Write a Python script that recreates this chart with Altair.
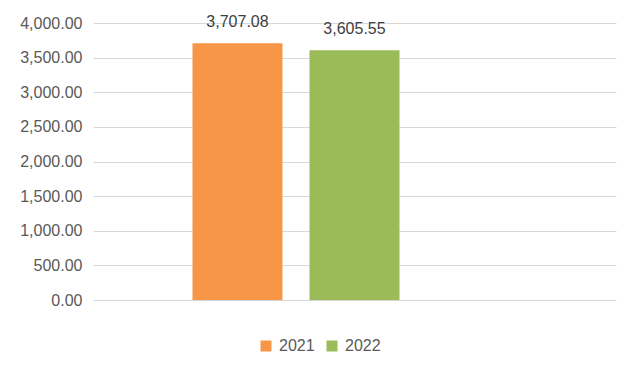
import altair as alt
import pandas as pd

series = ["2021", "2022"]
values = [3707.08, 3605.55]
colors = ["#F79646", "#9BBB59"]
y_ticks = [0, 500, 1000, 1500, 2000, 2500, 3000, 3500, 4000]

df = pd.DataFrame({"series": series, "value": values})

FONT = "Liberation Sans"

# Excel reserves a slot for an empty third series, so the band scale has three slots
x_domain = series + [" "]

base = alt.Chart(df).encode(
    x=alt.X(
        "series:N",
        axis=None,
        scale=alt.Scale(domain=x_domain, paddingInner=0.2308, paddingOuter=0.85),
    ),
    y=alt.Y(
        "value:Q",
        scale=alt.Scale(domain=[0, 4000], nice=False),
        axis=alt.Axis(
            values=y_ticks,
            format=",.2f",
            title=None,
            domain=False,
            ticks=False,
            labelPadding=11,
            gridColor="#d9d9d9",
            gridWidth=1,
            labelColor="#595959",
            labelFontSize=16,
            labelFont=FONT,
        ),
    ),
)

bars = base.mark_bar().encode(
    color=alt.Color(
        "series:N",
        scale=alt.Scale(domain=series, range=colors),
        legend=alt.Legend(
            orient="none",
            legendX=165,
            legendY=315,
            direction="horizontal",
            title=None,
            symbolType="square",
            symbolSize=121,
            symbolStrokeWidth=0,
            labelFontSize=16,
            labelFont=FONT,
            labelColor="#595959",
            labelOffset=5,
            columnPadding=9,
            padding=0,
        ),
    )
)

text = base.mark_text(
    dy=-16.5, baseline="alphabetic", fontSize=16, font=FONT, color="#404040"
).encode(text=alt.Text("value:Q", format=",.2f"))

chart = (
    (bars + text)
    .properties(
        width=523,
        height=277,
        autosize=alt.AutoSizeParams(type="none"),
        padding={"left": 85, "top": 15, "right": 16, "bottom": 67},
        background="white",
    )
    .configure_view(stroke=None)
)

chart.save("out.html", embed_options={"renderer": "svg", "actions": False})
